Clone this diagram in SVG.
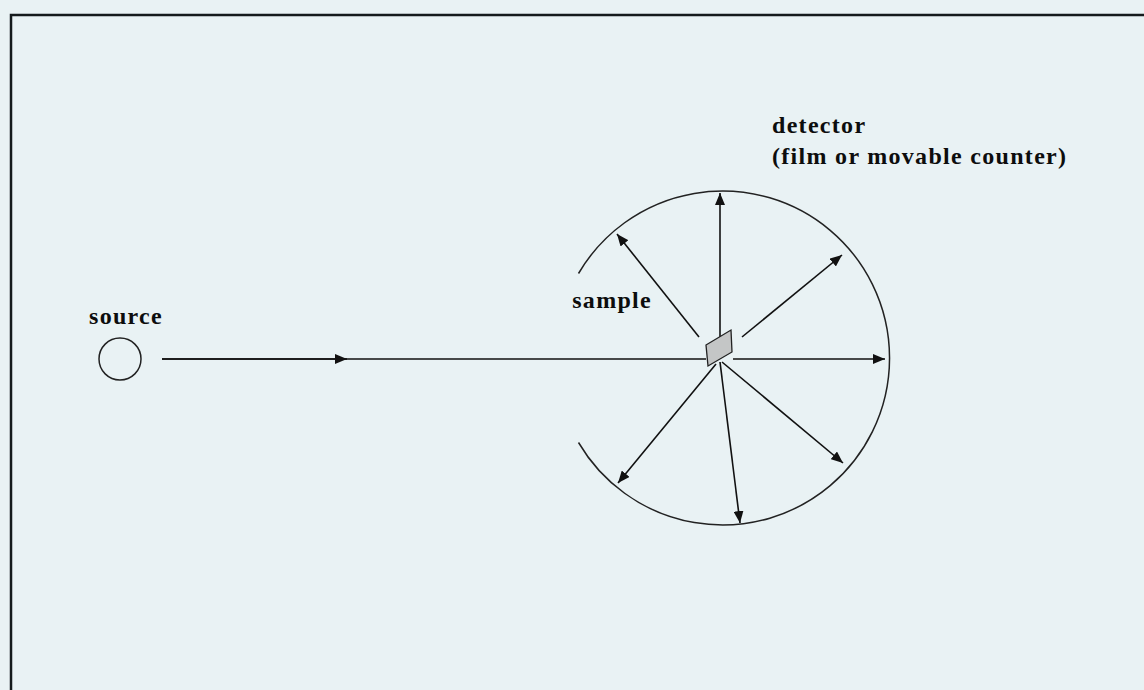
<svg xmlns="http://www.w3.org/2000/svg" width="1144" height="690" viewBox="0 0 1144 690">
<defs>
<style>
.lbl{font-family:"Liberation Serif","Times New Roman",serif;font-weight:bold;font-size:24px;letter-spacing:1.3px;fill:#0d0d0d}
.ray{stroke:#111;stroke-width:1.6;fill:none;marker-end:url(#ah)}
.line{stroke:#111;stroke-width:1.6;fill:none}
</style>
<marker id="ah" viewBox="0 0 12 10" refX="12" refY="5" markerWidth="12" markerHeight="10" markerUnits="userSpaceOnUse" orient="auto">
<path d="M0,0 L12,5 L0,10 Z" fill="#111"/>
</marker>
</defs>
<rect x="0" y="0" width="1144" height="690" fill="#e9f2f4"/>
<path d="M11,690 V15 H1144" fill="none" stroke="#151a1c" stroke-width="2.5"/>
<g id="source">
<circle cx="120" cy="359" r="21" fill="none" stroke="#222" stroke-width="1.5"/>
<text class="lbl" x="89" y="324">source</text>
</g>
<g id="detector">
<path d="M578.5,273.5 A167,167 0 1 1 578.5,442.5" fill="none" stroke="#222" stroke-width="1.5"/>
<text class="lbl" x="772" y="133">detector</text>
<text class="lbl" x="772" y="164">(film or movable counter)</text>
</g>
<g id="connectors">
<line class="line" x1="162" y1="359" x2="706" y2="359"/>
<line class="ray" x1="162" y1="359" x2="347" y2="359"/>
<line class="ray" x1="720" y1="340" x2="720" y2="193"/>
<line class="ray" x1="699" y1="337" x2="617" y2="234"/>
<line class="ray" x1="742" y1="337" x2="842" y2="255"/>
<line class="ray" x1="733" y1="359" x2="885" y2="359"/>
<line class="ray" x1="716" y1="364" x2="618" y2="483"/>
<line class="ray" x1="720" y1="362" x2="740" y2="523"/>
<line class="ray" x1="722" y1="362" x2="843" y2="463"/>
</g>
<g id="sample">
<polygon points="706,345 731,330 732,352 708,366" fill="#c4c6c6" stroke="#222" stroke-width="1.3"/>
<text class="lbl" x="652" y="308" text-anchor="end">sample</text>
</g>
</svg>
